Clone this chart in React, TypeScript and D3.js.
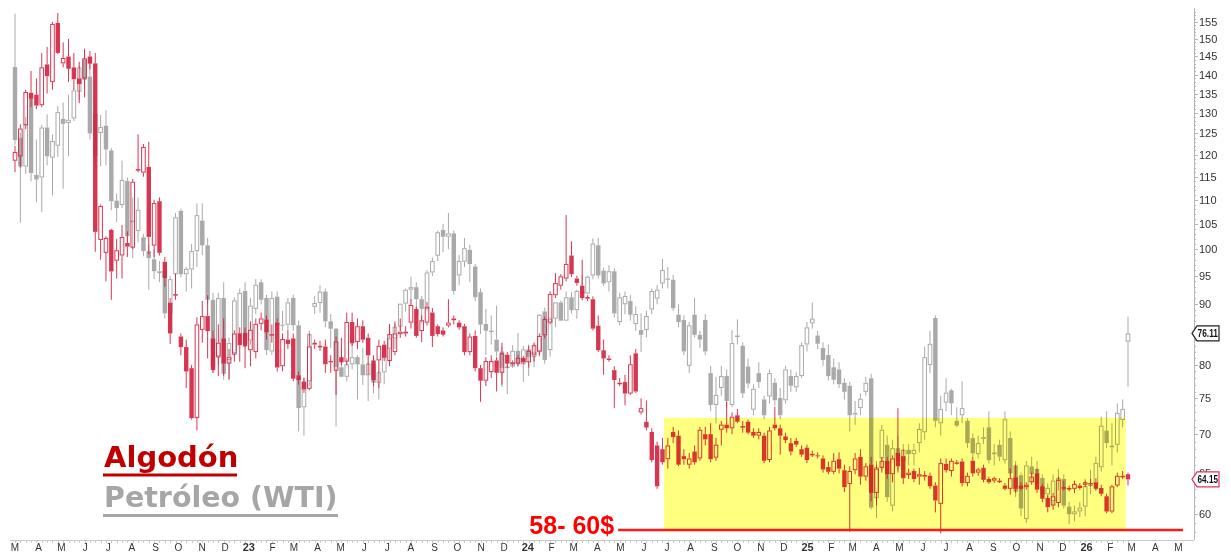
import * as d3 from "d3"

// [open, high, low, close] weekly candles
type Bar = [number, number, number, number]

// Algodón (cotton), cents/lb — right axis units
const cotton2022: Bar[] = [
  [118.6, 122, 116, 120.6], [119.6, 127.2, 117, 126.2], [127, 136, 126, 135.4], [135.2, 141, 131.5, 133.7],
  [134.7, 139, 131, 131.9], [132, 146, 131.5, 142], [142.8, 147.7, 135, 139.6], [138, 155, 136, 154.4],
  [154.7, 157.7, 145.7, 146], [143.1, 149, 142, 144.6], [145, 150, 138, 141.6], [142, 146, 136, 138.8],
  [139, 143.5, 132.5, 137.5], [139, 147, 134, 144.5], [145, 146.5, 141.5, 143], [143.1, 146, 99.5, 103.4],
  [101.8, 109, 98, 108.7], [99.3, 102.5, 94, 102.2], [103.8, 104, 90.7, 95.8], [97.8, 102, 94.5, 99.8],
  [98.8, 104.8, 94.5, 102.4], [101.2, 103.5, 98.5, 100.5], [100.3, 114.5, 100, 113.9], [116.5, 124.8, 116, 116.7],
  [115.9, 122.5, 115, 121.8], [117.2, 123, 99, 102.4], [100.7, 110, 98.5, 109.3], [109.7, 110.5, 98.8, 99.3],
  [97.6, 98.5, 93, 94.6], [90.2, 91, 83.3, 85], [91.5, 95.4, 90.7, 91.7], [84.5, 85, 81.5, 82.8],
  [82.8, 84, 76.5, 79], [79.5, 80, 72, 72.2], [72.2, 87.7, 70.5, 86.5], [85.6, 90.5, 83.5, 87.9],
  [87.9, 91.5, 81, 85.4], [84.2, 85.5, 78.8, 79.2], [81.3, 86.5, 78.3, 83.5], [84.2, 87.5, 78.3, 80.2],
  [80.2, 82.5, 77.8, 81.2], [81.6, 85.5, 80.5, 85], [85, 86, 80.5, 83.1],
]
const cotton2023: Bar[] = [
  [85.1, 86, 79.5, 82.9], [82.3, 87, 79.8, 85.6], [82, 87.5, 81, 86.6], [86.6, 88.5, 85.5, 87.5],
  [87.3, 88, 84, 85.2], [84.9, 86.5, 83.5, 84.9], [86.8, 87.5, 79, 79.6], [79.8, 85, 79, 84.1],
  [84, 85.5, 82.5, 83.3], [84.2, 85, 77.5, 77.9], [78.4, 79, 77, 77.7], [77.4, 78, 75.8, 76.3],
  [76.4, 85, 76.2, 82.9], [83.5, 84, 82.5, 83.2], [83, 83.8, 82.2, 83], [82.9, 84, 78.8, 80.1],
  [80.6, 81.5, 78.8, 80.4], [79.1, 84.5, 75.5, 83.7], [81.2, 84.3, 80, 80.4], [80.5, 88.5, 80, 86.9],
  [86.9, 88.5, 83, 83.4], [83.6, 87.5, 82.5, 86.2], [86.2, 87.2, 83.5, 84], [84.3, 85, 78.5, 81.5],
  [80.7, 81.5, 76.8, 77.7], [80.7, 84, 76.5, 83], [83.2, 83.8, 80.6, 81.1], [80.6, 86.5, 79.8, 84.9],
  [82, 87, 81.5, 85], [84.9, 87.5, 84.3, 85.3], [85, 86.2, 84.5, 85.3], [86.8, 90.8, 85.8, 89.8],
  [89.1, 89.5, 84.3, 84.6], [85.4, 88, 83.6, 87.2], [86.8, 90.3, 86.3, 89.5], [88.5, 89.3, 82.8, 84.6],
  [86.2, 86.5, 84.5, 84.9], [85.5, 86, 84.5, 84.8], [86.3, 90.8, 86, 86.8], [87.2, 88, 86.5, 87.5],
  [86.8, 87.2, 85.6, 86], [86.2, 86.6, 81.5, 82], [82, 85, 81.5, 84.5], [84.6, 85.5, 79, 79.5],
  [79.5, 80, 74.5, 77.6], [77.6, 81.2, 76.8, 80.6], [78.9, 81.5, 78, 80.6], [80.7, 81.2, 76, 78.8],
  [78.8, 83.5, 77, 81.8], [81.6, 82, 79.5, 80.2], [80.4, 80.7, 79.8, 80.1], [80.2, 81.5, 79.8, 81.1],
]
const cotton2024: Bar[] = [
  [81.1, 81.4, 80.1, 80.4], [80.4, 83, 79.6, 82.2], [81.6, 83.5, 80.5, 83.1], [82.1, 85, 81.5, 84.6],
  [84.7, 87.8, 84.2, 87.4], [86.8, 92.2, 86.5, 91.7], [91.5, 95.5, 91, 93.7], [93.2, 95.3, 92.5, 94.9],
  [94.5, 106.8, 94, 97.2], [98.8, 101.5, 94.8, 95.3], [94.5, 95, 93.2, 93.7], [93.2, 98, 90.6, 91],
  [91.2, 91.5, 90.5, 90.9], [90.8, 91.3, 85.5, 85.8], [86.3, 88, 82, 82.3], [82.3, 84, 78.5, 81],
  [81, 81.5, 80.5, 81], [79.2, 79.8, 73.6, 77.7], [77.3, 78, 76.8, 77.3], [77.4, 78.5, 74, 75.7],
  [75.7, 81.5, 75.5, 80.1], [81.8, 82.5, 75.8, 76], [73, 75, 72.7, 73.6], [71.7, 74.7, 70.5, 70.9],
  [70.3, 70.8, 66.3, 66.6], [68.5, 69, 63, 63.3], [68, 69.5, 66, 66.3], [66.7, 69.5, 65.5, 68.5],
  [70.3, 71, 68.8, 69.6], [69.8, 70.5, 65.8, 66], [67.1, 68, 66, 66.7], [66, 67.5, 65.5, 66.8],
  [67.7, 68.5, 66, 66.3], [66.8, 71, 66.5, 70.6], [70, 71, 68.5, 69.3], [70, 71.5, 66.3, 66.7],
  [66.9, 69.5, 66.5, 68.6], [70.6, 71.8, 68.5, 71.3], [71.3, 74.5, 70.2, 70.8], [70.8, 73, 70, 72.4],
  [72.6, 73.5, 71.5, 71.7], [71, 71.8, 70.2, 71.1], [71.7, 72, 70, 70.2], [70.3, 70.8, 69.5, 69.8],
  [69.8, 70.8, 69.3, 70.3], [69.8, 70.2, 66.2, 66.5], [66.6, 71, 66.3, 70.5], [71.3, 73.8, 70.5, 70.8],
  [70.8, 71.3, 67.3, 69.8], [69.7, 70.2, 68.8, 69.2], [68.8, 69.5, 67.2, 67.7], [69.1, 69.5, 68.3, 68.6],
  [68, 68.5, 67, 67.3],
]
const cotton2025: Bar[] = [
  [68.2, 68.6, 66.2, 66.6], [67.3, 67.8, 67, 67.4], [67.2, 67.6, 66.8, 67.1], [66.8, 67.2, 65, 65.4],
  [65.7, 66.4, 64.8, 65.1], [65.1, 67.5, 64.8, 66.5], [66.7, 67.6, 64.9, 65.5], [65.3, 66, 62.6, 63.2],
  [63.6, 65.8, 58, 65.2], [65.3, 67.5, 64.8, 66.8], [67, 68, 63.5, 64.5], [64.5, 66.2, 64, 65.8],
  [66, 67, 61.5, 62.5], [62.5, 66, 61, 65.5], [65.6, 67, 65, 66.5], [66.5, 67, 64.2, 64.8],
  [64.8, 67.2, 63.8, 66.8], [67.5, 73.6, 65, 65.8], [67.1, 68, 63.6, 64.3], [64.7, 65.5, 64.2, 65],
  [65.2, 65.5, 63.8, 64.2], [64.5, 65.6, 63.5, 64.8], [64.5, 65.2, 64, 64.7], [64.6, 65, 63, 63.3],
  [63.4, 63.8, 60.2, 61.6], [61.2, 66.8, 57.8, 66.2], [66.1, 66.8, 65, 65.3], [65.2, 66.8, 64.5, 66.5],
  [66.3, 66.6, 66, 66.3], [66.4, 66.8, 63.3, 63.7], [63.7, 65, 63.3, 64.6], [66.5, 67, 64.5, 64.9],
  [65, 65.6, 64.6, 65.4], [65.6, 66, 63.8, 64.1], [64.2, 64.5, 63.6, 63.8], [64, 64.5, 63.7, 64.3],
  [64, 64.3, 63.7, 64], [63.4, 63.7, 62.8, 63], [63, 65.5, 62.3, 64.3], [64.4, 66, 62.5, 63],
  [63.4, 63.8, 62.8, 63], [63.2, 63.8, 62.9, 63.5], [63.8, 65, 63.5, 64.5], [64.9, 65.5, 62.5, 62.9],
  [63.3, 63.6, 61.4, 61.8], [61.9, 62.2, 60.2, 60.8], [61, 62.5, 60.5, 62.1], [61.3, 64.5, 60.8, 64.1],
  [63.2, 64, 62.8, 63], [63, 63.4, 62.7, 63.1], [63, 64, 62.5, 63.6], [63.4, 63.7, 62.9, 63.1],
]
const cotton2026: Bar[] = [
  [63.5, 64, 63.2, 63.8], [63.7, 64.2, 63.3, 63.6], [63.8, 64.3, 62.8, 63], [63.1, 63.5, 62.1, 62.4],
  [62.1, 62.4, 60.1, 60.3], [60.3, 63.5, 60.1, 63.3], [63.4, 65, 63.2, 64.6], [64.6, 65.2, 64.2, 64.6],
  [64.8, 65, 63.4, 64.15],
]

// Petróleo WTI, $/bbl — drawn on its own overlay scale
const wti2022: Bar[] = [
  [127.2, 141, 109.5, 110.5], [111, 112, 94.2, 105], [105, 115.5, 103.5, 113.9], [119.9, 120.5, 102, 103.7],
  [103.3, 110.6, 98, 102.4], [102.8, 113.8, 96.2, 113.2], [113.2, 116.1, 105.2, 107.1], [106.8, 111.7, 99.3, 110.3],
  [109.3, 118, 107, 116.6], [115.1, 118.8, 100.6, 114], [114.2, 120.6, 107.1, 114.9], [115.2, 122, 114.6, 121.6],
  [121.3, 127.5, 119.3, 127.1], [129.1, 131.9, 122.1, 124.1], [124.9, 129.7, 110.6, 111.9], [116.2, 118.8, 105.2, 107.1],
  [112, 116, 105, 113.3], [113.6, 117, 105.2, 108.5], [108.3, 108.8, 96.5, 98.2], [98.3, 99.7, 94.3, 96.9],
  [97.5, 106.2, 96.9, 102.3], [102.1, 102.8, 90.7, 91.8], [94.3, 98.9, 88, 94.6], [92.7, 98.9, 90.7, 96.6],
  [91.6, 92.2, 88.3, 89.2], [89.2, 90.4, 82.8, 88], [87.8, 89.5, 84.5, 85.8], [85.8, 87.5, 84, 85.5],
  [86, 87, 78.3, 79.1], [79.1, 85, 77.2, 84.5], [85.3, 96, 84.5, 95.2], [96.4, 96.8, 84.8, 85.3],
  [85.3, 86.5, 82.5, 86.2], [86.1, 90.4, 83, 89.2], [89.2, 97.8, 86.5, 95.6], [94.6, 97.8, 88.5, 90.2],
  [90.2, 91.5, 80.5, 81.2], [81.2, 82.3, 70.5, 71.4], [72.6, 82.3, 71.5, 81.5], [81.5, 84, 69.6, 70.4],
  [72.3, 75.5, 69.6, 74.7], [73.3, 81.6, 72.8, 81.1], [76, 83, 75, 82.3],
]
const wti2023: Bar[] = [
  [82.6, 84, 74, 74.6], [75.1, 81.5, 74.5, 80.3], [79.8, 84.5, 79, 83.6], [84, 84.5, 80.5, 81.2],
  [81.5, 82, 73, 73.7], [73.5, 82.5, 73, 81.5], [81.7, 82.5, 76.5, 77.3], [77.4, 79.5, 76.5, 77.3],
  [77.4, 81.5, 76.5, 80.8], [81.5, 82, 76.5, 77.3], [77.3, 78, 63, 65.9], [66, 70, 62.5, 69.4],
  [69.4, 76.5, 68.8, 76], [80.1, 81.8, 79, 80.7], [80.7, 83.5, 79.2, 82.5], [82.5, 83, 77, 77.9],
  [77.9, 79, 74, 76.8], [76.8, 76.9, 63.6, 71.3], [71.3, 73.9, 70, 70], [70, 72.6, 69.4, 71.7],
  [71.7, 74.7, 71, 72.7], [72.7, 73, 67, 71.7], [71.7, 74, 68.9, 70.2], [70.2, 72, 66.8, 71.8],
  [71.8, 72.8, 67.8, 69.2], [69.2, 70.8, 67, 70.6], [70.6, 74, 69, 73.9], [73.9, 77.5, 72, 75.4],
  [75.4, 77.5, 73.9, 77.1], [77.1, 80.6, 76.5, 80.6], [80.6, 83, 79.4, 82.8], [82.8, 84.9, 81, 83.2],
  [83.2, 84, 78.8, 81.3], [81.3, 81.8, 77.6, 79.8], [79.8, 86, 79.5, 85.6], [85.6, 88.1, 85, 87.5],
  [88.4, 92.8, 87.5, 92.5], [92.9, 94, 89, 91.7], [91.7, 96, 89.5, 92.3], [92.3, 92.8, 82, 82.6],
  [85.1, 88.5, 83.5, 87.5], [87.4, 91.5, 86.5, 89.7], [89.4, 90.3, 84, 87], [86.6, 87, 81, 81.6],
  [82.4, 83, 76, 77.4], [77.5, 79.8, 73, 76.5], [76.5, 78.8, 74.5, 76.3], [75.2, 80.3, 72.8, 73.5],
  [73.5, 74.2, 68.6, 71.2], [71.2, 72.3, 67.7, 71.4], [71.4, 74.4, 71.2, 73.6], [73.6, 76.2, 71.4, 71.7],
]
const wti2024: Bar[] = [
  [71.7, 74.3, 69.3, 73.8], [73.8, 74.5, 70.1, 72.7], [72.7, 74.6, 71.3, 73.4], [73.4, 79, 72.8, 78.9],
  [79.4, 80, 71.8, 72.3], [73.7, 78.5, 72.8, 78.3], [78.3, 80.8, 77, 80.8], [80.8, 81.1, 78, 78],
  [78, 82.5, 78, 81.6], [81.6, 82.4, 79.1, 79.6], [79.6, 82.8, 78.3, 82.6], [82.6, 85.2, 81.6, 82.2],
  [82.2, 85.1, 82.1, 84.9], [85.1, 91.4, 84.5, 90.5], [90.2, 91.5, 84.6, 85.1], [85.9, 86.4, 83.4, 83.8],
  [84, 86.8, 82.5, 85.8], [85.8, 86.3, 78.5, 79.1], [77.8, 82.3, 77.3, 81.6], [80.5, 82.5, 79, 81.8],
  [81, 82, 78, 78.9], [77.5, 80.2, 76.5, 79], [76.6, 79.1, 73.4, 75.9], [76.6, 79.5, 75.5, 78.7],
  [79.7, 83, 79, 82.6], [81.4, 83.5, 80.5, 82.8], [83.8, 87.9, 83, 86], [84.6, 86.5, 83, 84.4],
  [84.4, 85.2, 79.5, 79.9], [78.9, 80.5, 77, 77.8], [78.1, 78.8, 73, 73.5], [71.5, 77.8, 70.5, 77.3],
  [78.9, 81.5, 75.5, 75.9], [75.9, 76.5, 74, 75.2], [78.1, 79, 73, 73.5], [70.5, 71.5, 65.5, 66.3],
  [66.3, 70, 64, 67.6], [68.5, 71.5, 67.5, 70.1], [70.1, 71, 66, 66.8], [66.3, 76.6, 66, 74.7],
  [75.6, 78.2, 74.5, 75.8], [74.3, 74.8, 67.2, 67.8], [71.4, 72.5, 68.5, 69.1], [65.7, 69, 65, 68.4],
  [70.5, 72, 68.5, 69.3], [67, 67.5, 64.5, 65], [67.4, 71, 66.5, 70.5], [69.2, 69.8, 66.2, 66.9],
  [67.2, 68.5, 64.5, 65], [66.9, 71.5, 66.5, 71], [70.1, 71, 68, 68.8], [68.6, 70.6, 68, 70.1],
  [70.1, 74.8, 69.8, 74.4],
]
const wti2025: Bar[] = [
  [74.5, 77.8, 73.5, 77], [77.6, 80.8, 76.8, 78.3], [75.8, 76.5, 73.8, 74.6], [74, 74.8, 71.5, 72.3],
  [73, 74.5, 69.5, 70.1], [71.3, 72.5, 69, 69.6], [71, 72, 68.5, 69], [69.2, 69.8, 67, 68],
  [68.8, 69.3, 63, 65], [65.3, 66.8, 63.8, 65.1], [65.9, 67.8, 65, 67.1], [68, 70, 67.5, 69.2],
  [69.8, 70.4, 54.2, 54.4], [55.4, 59.5, 53.3, 58.8], [59.8, 63.8, 58.5, 63.2], [61.4, 62.5, 55, 55.5],
  [54.6, 62, 54, 61], [61, 62.5, 58.5, 59.5], [59.5, 61.5, 58.8, 60.8], [60.8, 61.5, 59, 60.3],
  [60.3, 61.5, 59, 60.8], [61.6, 64, 60.5, 63.3], [62.9, 74.2, 62, 72.7], [71.6, 76.5, 70.5, 74.6],
  [78.4, 78.8, 63.5, 64.3], [64, 67.5, 62.5, 65.8], [66.6, 69.8, 65.5, 67.9], [68.2, 68.4, 65, 66.5],
  [64.3, 66, 63.5, 63.7], [65, 69.4, 64, 65.9], [64.3, 64.6, 61, 61.6], [62.2, 62.8, 60, 60.4],
  [60.3, 62.5, 59.8, 61.6], [62.1, 63.5, 61.5, 62.3], [63.5, 65.5, 59.2, 59.6], [60.3, 61.5, 59, 60.5],
  [61.4, 62, 59.5, 60], [59.6, 65.5, 59.2, 64.5], [62.2, 63, 57.8, 58.1], [59, 59.5, 55.5, 56.1],
  [57.9, 58.2, 53.5, 54.3], [53.2, 59.5, 52.8, 59], [58.9, 60, 57, 58], [58.6, 59.5, 56.5, 56.9],
  [57.6, 58, 55.4, 55.8], [55.8, 57, 55, 56.5], [55.1, 58, 54.6, 57.3], [57.3, 58.6, 56.2, 57.6],
  [57.5, 58, 54.3, 54.6], [54.5, 55, 52.7, 53.7], [53.7, 54.6, 53, 54], [54, 55, 53.4, 54.4],
]
const wti2026: Bar[] = [
  [54.5, 57.5, 53.5, 56.7], [56.7, 58.5, 55.8, 57], [56.9, 60, 56.2, 59.3], [58.8, 64.8, 58.3, 63.7],
  [63.1, 65.5, 61, 61.6], [61.3, 64, 59, 61.1], [61.4, 66.5, 60.5, 65.3], [64.4, 67, 63.5, 65.8],
  [74.9, 78.6, 68.7, 76.11],
]

const cotton = [...cotton2022, ...cotton2023, ...cotton2024, ...cotton2025, ...cotton2026]
const wti = [...wti2022, ...wti2023, ...wti2024, ...wti2025, ...wti2026]

// weekly bars, Monday 7 Mar 2022 → Monday 2 Mar 2026
const weeks = d3.utcMonday.range(new Date(Date.UTC(2022, 2, 7)), new Date(Date.UTC(2026, 2, 3)))
const months = d3.utcMonth.range(new Date(Date.UTC(2022, 2, 1)), new Date(Date.UTC(2026, 4, 2)))
const monthLetters = ["J", "F", "M", "A", "M", "J", "J", "A", "S", "O", "N", "D"]

// 85 sits under the WTI price tag in the original, so it is not printed
const yTicks = d3.range(60, 156, 5).filter((v) => v !== 85)

// WTI overlay: ratio between cotton axis units and WTI price
const wtiOverlay = 1.117

// support zone (yellow) and the 58-60 line
const zoneStart = new Date(Date.UTC(2024, 6, 3))
const zoneEnd = new Date(Date.UTC(2026, 1, 27))
const zoneTop = 72.25
const supportLevel = 58.2
const supportStart = new Date(Date.UTC(2024, 4, 4))
const supportEnd = new Date(Date.UTC(2026, 4, 13))
const supportLabel = "58- 60$"

const RED = "#d3213f"
const GRAY = "#a9a9a9"

function Candles({ data, y, x, color, opacity }: any) {
  return (
    <g opacity={opacity}>
      {data.map((d: Bar, i: number) => {
        const [o, h, l, c] = d
        const xc = x(weeks[i])
        const top = y(Math.max(o, c))
        const bot = y(Math.min(o, c))
        const up = c >= o
        const hgt = Math.max(1, bot - top)
        return (
          <g key={i}>
            <line x1={xc} x2={xc} y1={y(h)} y2={top} stroke={color} strokeWidth={1} />
            <line x1={xc} x2={xc} y1={top + hgt} y2={y(l)} stroke={color} strokeWidth={1} />
            {up ? (
              <rect x={xc - 1.8} y={top + 0.5} width={3.6} height={Math.max(0.5, hgt - 1)} fill="none" stroke={color} strokeWidth={1} />
            ) : (
              <rect x={xc - 2.2} y={top} width={4.4} height={hgt} fill={color} />
            )}
          </g>
        )
      })}
    </g>
  )
}

function PriceTag({ yPos, text, stroke }: { yPos: number; text: string; stroke: string }) {
  const x0 = 1192
  return (
    <g>
      <path
        d={`M${x0},${yPos} L${x0 + 5},${yPos - 7.5} L${x0 + 27},${yPos - 7.5} L${x0 + 27},${yPos + 7.5} L${x0 + 5},${yPos + 7.5} Z`}
        fill="#fff"
        stroke={stroke}
        strokeWidth={1.2}
      />
      <text
        x={x0 + 5.5}
        y={yPos + 3.8}
        fontSize={10}
        fontWeight="bold"
        fill="#111"
        textLength={20.5}
        lengthAdjust="spacingAndGlyphs"
      >
        {text}
      </text>
    </g>
  )
}

export default function App() {
  const width = 1231
  const height = 553
  const plotBottom = 538
  const plotTop = 10
  const axisX = 1194

  const x = d3.scaleUtc().domain([weeks[0], weeks[weeks.length - 1]]).range([15, 1128])
  const y = d3.scaleLog().domain([57.3, 158.6]).range([plotBottom, plotTop])
  const yWti = d3.scaleLog().domain([57.3 / wtiOverlay, 158.6 / wtiOverlay]).range([plotBottom, plotTop])

  const minor = d3.range(58, 159, 1)
  const lastCotton = cotton[cotton.length - 1][3]
  const lastWti = wti[wti.length - 1][3]

  return (
    <svg
      width={width}
      height={height}
      style={{ position: "absolute", left: 0, top: 0, background: "#fff" }}
      fontFamily="'Liberation Sans', Arial, sans-serif"
    >
      <Candles data={wti} y={yWti} x={x} color={GRAY} opacity={1} />
      <Candles data={cotton} y={y} x={x} color={RED} opacity={0.9} />

      {/* support zone */}
      <rect
        x={x(zoneStart)}
        y={y(zoneTop)}
        width={x(zoneEnd) - x(zoneStart)}
        height={y(supportLevel) - y(zoneTop)}
        fill="#ffff80"
        style={{ mixBlendMode: "multiply" }}
      />
      <line x1={x(supportStart)} x2={x(supportEnd)} y1={y(supportLevel)} y2={y(supportLevel)} stroke="#ff1a1a" strokeWidth={2.5} />
      <text x={x(supportStart) - 4} y={534} textAnchor="end" fontSize={25} fontWeight="bold" fill="#ff0000">
        {supportLabel}
      </text>

      {/* legend */}
      <text x={104} y={467} fontFamily="'DejaVu Sans', sans-serif" fontSize={29} fontWeight="bold" fill="#c00000">
        Algodón
      </text>
      <line x1={103} x2={237} y1={475} y2={475} stroke="#c00000" strokeWidth={3} />
      <text x={104} y={507} fontFamily="'DejaVu Sans', sans-serif" fontSize={28.5} fontWeight="bold" fill="#a6a6a6">
        Petróleo (WTI)
      </text>
      <line x1={103} x2={338} y1={515.5} y2={515.5} stroke="#a6a6a6" strokeWidth={3} />

      {/* right axis */}
      <line x1={axisX + 0.5} x2={axisX + 0.5} y1={8} y2={plotBottom + 2} stroke="#b5b5b5" />
      {minor.map((v) => (
        <line key={v} x1={axisX} x2={axisX + (v % 5 === 0 ? 4 : 2)} y1={Math.round(y(v)) + 0.5} y2={Math.round(y(v)) + 0.5} stroke="#b5b5b5" />
      ))}
      {yTicks.map((v) => (
        <text key={v} x={axisX + 5} y={y(v) + 4} fontSize={11} fill="#333">
          {v}
        </text>
      ))}

      {/* bottom axis */}
      <line x1={10} x2={axisX} y1={plotBottom + 2.5} y2={plotBottom + 2.5} stroke="#c8c8c8" />
      {weeks.map((w, i) => (
        <line key={i} x1={Math.round(x(w)) + 0.5} x2={Math.round(x(w)) + 0.5} y1={plotBottom + 3} y2={plotBottom + 5} stroke="#c8c8c8" />
      ))}
      {months.map((m, i) => {
        const isYear = m.getUTCMonth() === 0
        return (
          <text
            key={i}
            x={x(m) + 4.5}
            y={551}
            textAnchor="middle"
            fontSize={isYear ? 11 : 10}
            fontWeight={isYear ? "bold" : "normal"}
            fill="#333"
          >
            {isYear ? String(m.getUTCFullYear()).slice(2) : monthLetters[m.getUTCMonth()]}
          </text>
        )
      })}

      {/* last price tags */}
      <PriceTag yPos={yWti(lastWti)} text={lastWti.toFixed(2)} stroke="#222" />
      <PriceTag yPos={y(lastCotton)} text={lastCotton.toFixed(2)} stroke="#e0305a" />
    </svg>
  )
}
